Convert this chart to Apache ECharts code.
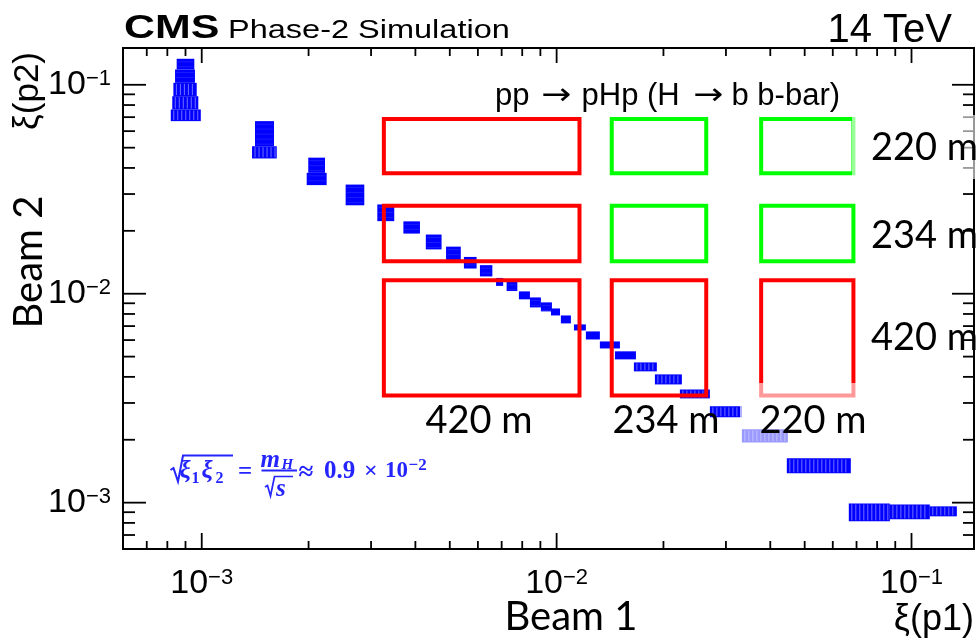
<!DOCTYPE html>
<html><head><meta charset="utf-8">
<script src="https://cdn.jsdelivr.net/npm/echarts@6/dist/echarts.min.js"></script>
<style>html,body{margin:0;padding:0;background:#fff}#chart{width:977px;height:643px}</style>
</head><body><div id="chart"></div>
<script>
// ---------------- data ----------------
const axisMin = 6e-4, axisMax = 0.15;
const majorTicks = [1e-3, 1e-2, 1e-1];
const minorTicks = [7e-4, 8e-4, 9e-4, 2e-3, 3e-3, 4e-3, 5e-3, 6e-3, 7e-3, 8e-3, 9e-3,
                    2e-2, 3e-2, 4e-2, 5e-2, 6e-2, 7e-2, 8e-2, 9e-2];
// PPS stations and their xi acceptance
const stationNames = ['420 m', '234 m', '220 m'];
const stationLo = [0.00326, 0.0143, 0.0377];
const stationHi = [0.0116, 0.0264, 0.0686];
// signal clusters: xi(p1) range, xi(p2) range
const xi1Lo = [8.50e-4, 8.41e-4, 8.32e-4, 8.26e-4, 8.18e-4, 1.413e-3, 1.386e-3, 1.996e-3, 1.976e-3, 2.544e-3,
               3.124e-3, 3.70e-3, 4.28e-3, 4.88e-3, 5.48e-3, 6.08e-3, 6.75e-3, 7.23e-3, 7.83e-3, 8.41e-3,
               9.03e-3, 9.64e-3, 0.01028, 0.01119, 0.01209, 0.01324, 0.0146, 0.01651, 0.01892, 0.02225,
               0.02703, 0.03327, 0.04453, 0.06658, 0.0869, 0.1126];
const xi1Hi = [9.53e-4, 9.57e-4, 9.68e-4, 9.78e-4, 9.94e-4, 1.598e-3, 1.627e-3, 2.225e-3, 2.249e-3, 2.871e-3,
               3.487e-3, 4.12e-3, 4.74e-3, 5.37e-3, 5.95e-3, 6.59e-3, 7.07e-3, 7.75e-3, 8.41e-3, 9.03e-3,
               9.70e-3, 0.01022, 0.01097, 0.01209, 0.01324, 0.01508, 0.01673, 0.01916, 0.02254, 0.02703,
               0.03327, 0.04483, 0.06745, 0.0869, 0.1126, 0.1342];
const xi2Lo = [0.1184, 0.1022, 0.0882, 0.0762, 0.0670, 0.0508, 0.0444, 0.0379, 0.0331, 0.0265,
               0.02225, 0.0194, 0.0163, 0.0145, 0.0132, 0.0121, 0.0109, 0.0103, 0.0094, 0.0086,
               0.00823, 0.00787, 0.00721, 0.00667, 0.00604, 0.00547, 0.00485, 0.00425, 0.00368, 0.003155,
               0.00256, 0.001943, 0.001381, 0.000814, 0.000832, 0.00086];
const xi2Hi = [0.1332, 0.1184, 0.1022, 0.0882, 0.0762, 0.0670, 0.0508, 0.0448, 0.0379, 0.0333,
               0.02675, 0.0222, 0.0192, 0.0168, 0.0150, 0.0137, 0.0119, 0.0114, 0.01026, 0.0096,
               0.00909, 0.0085, 0.00787, 0.00713, 0.0066, 0.00591, 0.0053, 0.00469, 0.00411, 0.00348,
               0.00289, 0.002243, 0.001629, 0.000992, 0.000981, 0.00096];

// ---------------- build ----------------
const SANS = '"Liberation Sans", Arial, Helvetica, sans-serif';
const CAL = 'Lato, "Open Sans", sans-serif';
const SERIF = '"Liberation Serif", "DejaVu Serif", serif';
const BLUE = '#0000ff';
const FBLUE = '#2424ff';

const clusterData = xi1Lo.map((v, i) => [v, xi1Hi[i], xi2Lo[i], xi2Hi[i]]);
const boxData = [];
for (let r = 0; r < 3; r++) for (let c = 0; c < 3; c++) {
  boxData.push([stationLo[c], stationHi[c], stationLo[r], stationHi[r], (r === 0 || c === 0) ? 1 : 0]);
}

function tickSeries(ticks, lb, lt, ll, lr) {
  return {
    type: 'custom', coordinateSystem: 'cartesian2d', silent: true, clip: false, z: 6,
    data: ticks.map(v => [v, v]), encode: { x: 0, y: 1 },
    renderItem: (params, api) => {
      const cs = params.coordSys;
      const p = api.coord([api.value(0), api.value(1)]);
      const L = cs.x, R = cs.x + cs.width, T = cs.y, B = cs.y + cs.height;
      const st = () => ({ stroke: '#000', lineWidth: 1.8 });
      return { type: 'group', children: [
        { type: 'line', shape: { x1: p[0], y1: B, x2: p[0], y2: B - lb }, style: st() },
        { type: 'line', shape: { x1: p[0], y1: T, x2: p[0], y2: T + lt }, style: st() },
        { type: 'line', shape: { x1: L, y1: p[1], x2: L + ll, y2: p[1] }, style: st() },
        { type: 'line', shape: { x1: R, y1: p[1], x2: R - lr, y2: p[1] }, style: st() }
      ]};
    }
  };
}

function fmt(v) {
  const e = Math.log10(v), r = Math.round(e);
  if (Math.abs(e - r) > 1e-6) return '';
  return '{b|10}{s|\u2212' + (-r) + '}';
}
const labelRich = {
  b: { fontSize: 34, fontFamily: SANS, color: '#000', lineHeight: 34 },
  s: { fontSize: 22, fontFamily: SANS, color: '#000', lineHeight: 22, verticalAlign: 'top' }
};

function txt(text, x, y, size, opts) {
  opts = opts || {};
  return {
    type: 'text', x: x, y: y, z: 100, rotation: opts.rot || 0, scaleX: opts.sx || 1,
    style: {
      text: text, x: 0, y: 0, fill: opts.color || '#000',
      fontSize: size, fontFamily: opts.font || SANS, fontWeight: opts.weight || 'normal',
      fontStyle: opts.style || 'normal',
      align: opts.align || 'left', verticalAlign: 'middle'
    }
  };
}
const fb = (t, x, y, s, it) => txt(t, x, y, s, { font: SERIF, weight: 'bold', style: it ? 'italic' : 'normal', color: FBLUE });

const graphics = [
  // label background fades
  { type: 'rect', z: 99, shape: { x: 740, y: 383, width: 130, height: 62 }, style: { fill: 'rgba(255,255,255,0.6)' } },
  { type: 'rect', z: 99, shape: { x: 852, y: 115, width: 125, height: 64 }, style: { fill: 'rgba(255,255,255,0.6)' } },
  txt('CMS', 124, 28.5, 33, { weight: 'bold', sx: 1.3 }),
  txt('Phase-2 Simulation', 228, 31, 26, { sx: 1.25 }),
  txt('14 TeV', 952, 30.5, 40, { align: 'right' }),
  txt('pp', 495, 96.5, 31),
  txt('\u2192', 541, 96, 30, { font: '"DejaVu Sans", sans-serif', sx: 1.2 }),
  txt('pHp (H', 581.5, 96.5, 31),
  txt('\u2192', 693, 96, 30, { font: '"DejaVu Sans", sans-serif', sx: 1.2 }),
  txt('b b-bar)', 731.5, 96.5, 31),
  txt('\u03be(p2)', 28, 52, 35, { rot: Math.PI / 2, align: 'right' }),
  txt('\u03be(p1)', 974, 620, 36, { align: 'right' }),
  txt('Beam 1', 571, 617, 40, { font: CAL, align: 'center' }),
  txt('Beam 2', 29, 262, 40, { font: CAL, align: 'center', rot: Math.PI / 2 }),
  txt(stationNames[0], 479, 421, 38, { font: CAL, align: 'center' }),
  txt(stationNames[1], 666, 421, 38, { font: CAL, align: 'center' }),
  txt(stationNames[2], 813, 421, 38, { font: CAL, align: 'center' }),
  txt(stationNames[2], 871, 148, 38, { font: CAL }),
  txt(stationNames[1], 871, 236, 38, { font: CAL }),
  txt(stationNames[0], 871, 338, 38, { font: CAL }),
  // formula sqrt(xi1 xi2) = m_H / sqrt(s) ~ 0.9 x 10^-2
  { type: 'polyline', z: 100, shape: { points: [[170.5, 470], [173.5, 468], [178, 481.5], [183, 455.5], [233, 455.5]] },
    style: { stroke: FBLUE, lineWidth: 2, fill: null } },
  fb('\u03be', 179.5, 472, 25, true),
  fb('1', 191.5, 478.5, 16),
  fb('\u03be', 201.5, 472, 25, true),
  fb('2', 215.5, 478.5, 16),
  fb('=', 238, 473, 25),
  fb('m', 260.5, 461, 25, true),
  fb('H', 281.5, 465, 15, true),
  { type: 'line', z: 100, shape: { x1: 261.5, y1: 470.5, x2: 297, y2: 470.5 }, style: { stroke: FBLUE, lineWidth: 1.8 } },
  { type: 'polyline', z: 100, shape: { points: [[265, 487], [267.5, 485.5], [270.5, 496], [274.5, 476.5], [293, 476.5]] },
    style: { stroke: FBLUE, lineWidth: 1.7, fill: null } },
  fb('s', 276, 490, 25, true),
  fb('\u2248', 298.5, 473, 27),
  fb('0.9', 324, 471.5, 25),
  fb('\u00d7', 364, 472, 24),
  fb('10', 385, 471.5, 23),
  fb('\u22122', 408.5, 465.5, 17)
];

function clusterItem(params, api) {
  const a = api.coord([api.value(0), api.value(3)]);
  const b = api.coord([api.value(1), api.value(2)]);
  const w = b[0] - a[0], h = b[1] - a[1];
  const kids = [{ type: 'rect', shape: { x: a[0], y: a[1], width: w, height: h }, style: { fill: BLUE } }];
  // ROOT box texture: light bin gaps
  if (w > 22) {
    for (let x = a[0] + 3; x < b[0] - 1; x += 4)
      kids.push({ type: 'line', shape: { x1: x, y1: a[1] + 1, x2: x, y2: b[1] - 1 }, style: { stroke: 'rgba(140,140,255,0.8)', lineWidth: 1 } });
  } else if (h > 9) {
    for (let y = a[1] + 3; y < b[1] - 1; y += 5)
      kids.push({ type: 'line', shape: { x1: a[0] + 1, y1: y, x2: b[0] - 1, y2: y }, style: { stroke: 'rgba(80,80,255,0.35)', lineWidth: 1 } });
  }
  return { type: 'group', children: kids };
}

const chart = echarts.init(document.getElementById('chart'), null, { renderer: 'canvas' });
chart.setOption({
  animation: false,
  backgroundColor: '#fff',
  grid: { left: 123, top: 48, width: 851, height: 501, show: true, borderColor: '#000', borderWidth: 2, backgroundColor: 'transparent', containLabel: false },
  xAxis: {
    type: 'log', logBase: 10, min: axisMin, max: axisMax,
    axisLine: { show: false }, axisTick: { show: false }, splitLine: { show: false }, minorTick: { show: false },
    axisLabel: { margin: 18, formatter: fmt, rich: labelRich, hideOverlap: false }
  },
  yAxis: {
    type: 'log', logBase: 10, min: axisMin, max: axisMax,
    axisLine: { show: false }, axisTick: { show: false }, splitLine: { show: false }, minorTick: { show: false },
    axisLabel: { margin: 12, formatter: fmt, rich: labelRich, hideOverlap: false }
  },
  graphic: { elements: graphics },
  series: [
    {
      type: 'custom', name: 'signal', coordinateSystem: 'cartesian2d', z: 3, silent: true,
      data: clusterData, encode: { x: [0, 1], y: [2, 3] }, renderItem: clusterItem
    },
    {
      type: 'custom', name: 'acceptance', coordinateSystem: 'cartesian2d', z: 4, silent: true,
      data: boxData, encode: { x: [0, 1], y: [2, 3] },
      renderItem: (params, api) => {
        const a = api.coord([api.value(0), api.value(3)]);
        const b = api.coord([api.value(1), api.value(2)]);
        return { type: 'rect', shape: { x: a[0], y: a[1], width: b[0] - a[0], height: b[1] - a[1] },
                 style: { fill: null, stroke: api.value(4) ? '#ff0000' : '#00ff00', lineWidth: 4 } };
      }
    },
    tickSeries(majorTicks, 16, 15, 23, 22),
    tickSeries(minorTicks, 8, 8, 12, 11)
  ]
});
</script></body></html>
